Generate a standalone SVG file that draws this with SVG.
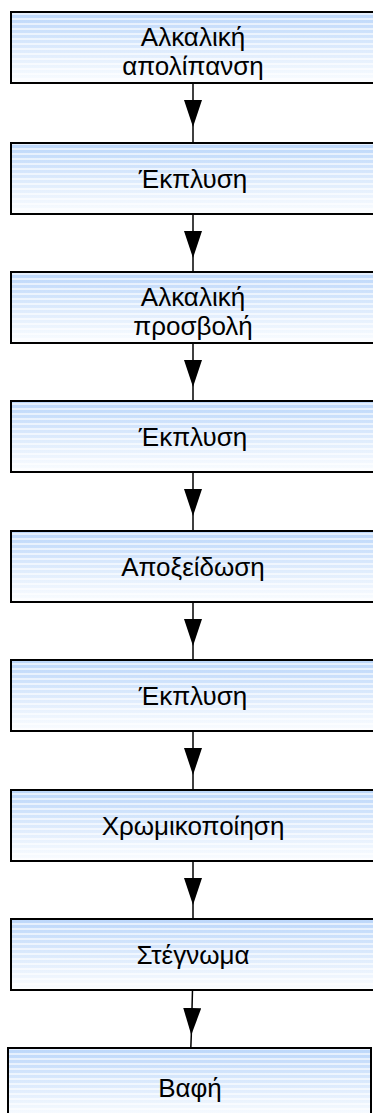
<svg xmlns="http://www.w3.org/2000/svg" width="373" height="1113" viewBox="0 0 373 1113">
  <defs>
    <!-- soft blue-to-white fill for the process boxes -->
    <linearGradient id="boxFill" x1="0" y1="0" x2="0" y2="1">
      <stop offset="0" stop-color="#bcd7fa"/>
      <stop offset="1" stop-color="#fbfdff"/>
    </linearGradient>
    <!-- thin horizontal light bands laid over the fill -->
    <pattern id="bands" width="8" height="5" patternUnits="userSpaceOnUse">
      <rect x="0" y="3" width="8" height="2" fill="#ffffff" opacity="0.6"/>
    </pattern>
    <marker id="head" markerUnits="userSpaceOnUse" viewBox="0 0 27 18" refX="27" refY="9" markerWidth="27" markerHeight="18" orient="auto">
      <path d="M0,0 L27,9 L0,18 Z" fill="#000"/>
    </marker>
  </defs>
  <style>
    .box { fill: url(#boxFill); }
    .band { fill: url(#bands); }
    .frame { fill: none; stroke: #000; stroke-width: 2; }
    .label { font-family: "Liberation Sans", Arial, sans-serif; font-size: 26px; text-anchor: middle; fill: #000; }
    .conn path { fill: none; stroke: #000; stroke-width: 1.5; marker-mid: url(#head); }
  </style>

  <rect width="373" height="1113" fill="#fff"/>

  <g id="connectors" class="conn">
    <path d="M193,83 L193,127 L193,143"/>
    <path d="M193,214 L193,258 L193,272"/>
    <path d="M193,343 L193,387 L193,401"/>
    <path d="M193,472 L193,516 L193,531"/>
    <path d="M193,602 L193,646 L193,660"/>
    <path d="M193,731 L193,775 L193,790"/>
    <path d="M193,861 L193,905 L193,919"/>
    <path d="M192.5,990 L191.3,1035 L190.8,1048"/>
  </g>

  <g id="n1">
    <rect class="box" x="11" y="12" width="363" height="71"/>
    <rect class="band" x="11" y="12" width="363" height="71"/>
    <rect class="frame" x="11" y="12" width="363" height="71"/>
    <text class="label" x="193" y="46">Αλκαλική</text>
    <text class="label" x="193" y="75">απολίπανση</text>
  </g>
  <g id="n2">
    <rect class="box" x="11" y="143" width="363" height="71"/>
    <rect class="band" x="11" y="143" width="363" height="71"/>
    <rect class="frame" x="11" y="143" width="363" height="71"/>
    <text class="label" x="193" y="188">Έκπλυση</text>
  </g>
  <g id="n3">
    <rect class="box" x="11" y="272" width="363" height="71"/>
    <rect class="band" x="11" y="272" width="363" height="71"/>
    <rect class="frame" x="11" y="272" width="363" height="71"/>
    <text class="label" x="193" y="306">Αλκαλική</text>
    <text class="label" x="193" y="335">προσβολή</text>
  </g>
  <g id="n4">
    <rect class="box" x="11" y="401" width="363" height="71"/>
    <rect class="band" x="11" y="401" width="363" height="71"/>
    <rect class="frame" x="11" y="401" width="363" height="71"/>
    <text class="label" x="193" y="446">Έκπλυση</text>
  </g>
  <g id="n5">
    <rect class="box" x="11" y="531" width="363" height="71"/>
    <rect class="band" x="11" y="531" width="363" height="71"/>
    <rect class="frame" x="11" y="531" width="363" height="71"/>
    <text class="label" x="193" y="576">Αποξείδωση</text>
  </g>
  <g id="n6">
    <rect class="box" x="11" y="660" width="363" height="71"/>
    <rect class="band" x="11" y="660" width="363" height="71"/>
    <rect class="frame" x="11" y="660" width="363" height="71"/>
    <text class="label" x="193" y="705">Έκπλυση</text>
  </g>
  <g id="n7">
    <rect class="box" x="11" y="790" width="363" height="71"/>
    <rect class="band" x="11" y="790" width="363" height="71"/>
    <rect class="frame" x="11" y="790" width="363" height="71"/>
    <text class="label" x="193" y="835">Χρωμικοποίηση</text>
  </g>
  <g id="n8">
    <rect class="box" x="11" y="919" width="363" height="71"/>
    <rect class="band" x="11" y="919" width="363" height="71"/>
    <rect class="frame" x="11" y="919" width="363" height="71"/>
    <text class="label" x="193" y="964">Στέγνωμα</text>
  </g>
  <g id="n9">
    <rect class="box" x="8" y="1048" width="363" height="71"/>
    <rect class="band" x="8" y="1048" width="363" height="71"/>
    <rect class="frame" x="8" y="1048" width="363" height="71"/>
    <text class="label" x="190" y="1097">Βαφή</text>
  </g>
</svg>
